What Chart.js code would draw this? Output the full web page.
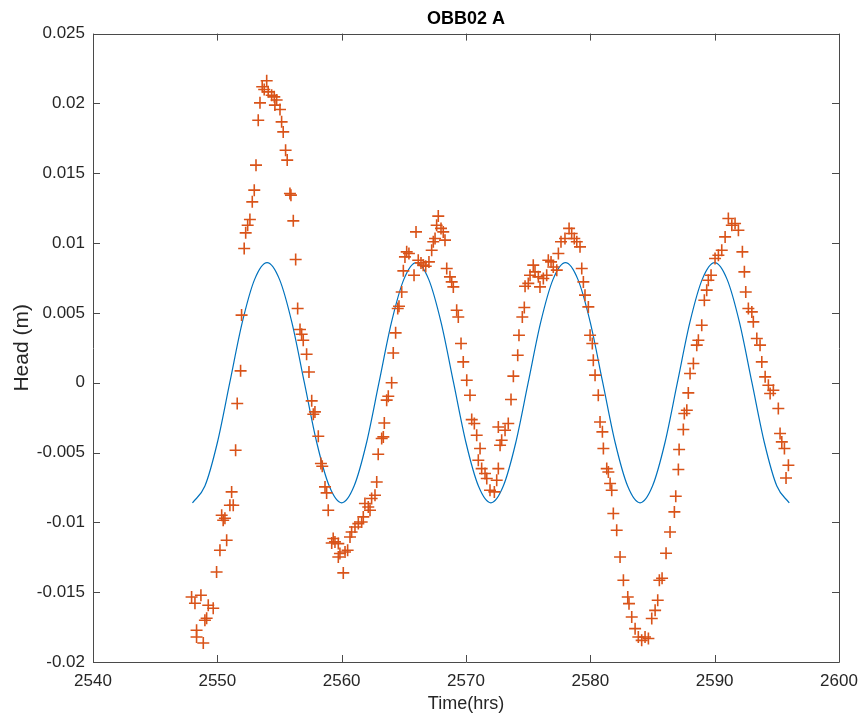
<!DOCTYPE html>
<html lang="en">
<head>
    <meta charset="UTF-8">
    <title>OBB02 A</title>
    <script src="https://cdn.jsdelivr.net/npm/chart.js"></script>
    <style>
        body {
            margin: 0;
            padding: 0;
            background: #fff;
        }
        #wrap {
            width: 862px;
            height: 723px;
        }
    </style>
</head>
<body>
<div id="wrap">
    <canvas id="headChart" width="862" height="723"></canvas>
</div>
<script>
    // axis ticks
    const xTicks = [2540, 2550, 2560, 2570, 2580, 2590, 2600];
    const yTicks = [-0.02, -0.015, -0.01, -0.005, 0, 0.005, 0.01, 0.015, 0.02, 0.025];

    // fitted curve (blue), hourly
    const fitT = [2548, 2549, 2550, 2551, 2552, 2553, 2554, 2555, 2556, 2557, 2558, 2559,
                  2560, 2561, 2562, 2563, 2564, 2565, 2566, 2567, 2568, 2569, 2570, 2571,
                  2572, 2573, 2574, 2575, 2576, 2577, 2578, 2579, 2580, 2581, 2582, 2583,
                  2584, 2585, 2586, 2587, 2588, 2589, 2590, 2591, 2592, 2593, 2594, 2595,
                  2596];
    const fitHead = [-0.0086, -0.0074, -0.0043, 0, 0.0043, 0.0074, 0.0086, 0.0074, 0.0043, 0, -0.0043, -0.0074,
                     -0.0086, -0.0074, -0.0043, 0, 0.0043, 0.0074, 0.0086, 0.0074, 0.0043, 0, -0.0043, -0.0074,
                     -0.0086, -0.0074, -0.0043, 0, 0.0043, 0.0074, 0.0086, 0.0074, 0.0043, 0, -0.0043, -0.0074,
                     -0.0086, -0.0074, -0.0043, 0, 0.0043, 0.0074, 0.0086, 0.0074, 0.0043, 0, -0.0043, -0.0074,
                     -0.0086];

    // measured head (red crosses)
    const obsT = [
        2547.93, 2548.20, 2548.68, 2549.27, 2549.67, 2549.14, 2549.00, 2548.33, 2548.33, 2548.87,
        2549.94, 2550.21, 2550.75, 2550.35, 2550.47, 2550.61, 2551.01, 2551.28, 2551.15, 2551.47,
        2551.60, 2551.87, 2551.95, 2552.16, 2552.28, 2552.44, 2552.62, 2552.81, 2552.97, 2553.11,
        2553.29, 2553.43, 2553.61, 2553.77, 2553.97, 2554.09, 2554.37, 2554.58, 2554.77, 2554.63,
        2555.04, 2555.17, 2555.30, 2555.49, 2555.62, 2555.84, 2555.92, 2556.11, 2556.30, 2556.46,
        2556.65, 2556.78, 2556.91, 2557.18, 2557.37, 2557.59, 2557.85, 2557.72, 2558.12, 2558.33,
        2558.44, 2558.66, 2558.79, 2558.92, 2559.32, 2559.20, 2559.46, 2559.73, 2559.73, 2559.86,
        2560.27, 2560.48, 2560.13, 2560.67, 2560.80, 2561.07, 2561.34, 2561.61, 2561.74, 2561.87,
        2562.14, 2562.28, 2562.41, 2562.68, 2562.82, 2562.94, 2563.22, 2563.35, 2563.43, 2563.62,
        2563.75, 2564.02, 2564.15, 2564.34, 2564.51, 2564.61, 2564.83, 2564.96, 2565.09, 2565.23,
        2565.41, 2565.82, 2565.98, 2566.16, 2566.38, 2566.56, 2566.76, 2567.02, 2567.24, 2567.37,
        2567.51, 2567.64, 2567.77, 2567.99, 2568.17, 2568.31, 2568.45, 2568.71, 2568.85, 2568.98,
        2569.25, 2569.38, 2569.60, 2569.78, 2570.06, 2570.32, 2570.46, 2570.67, 2570.86, 2571.13,
        2570.99, 2571.26, 2571.53, 2571.67, 2571.93, 2572.28, 2572.47, 2572.60, 2572.74, 2572.87,
        2572.60, 2573.14, 2573.40, 2573.62, 2573.81, 2574.16, 2574.26, 2574.53, 2574.69, 2574.75,
        2575.01, 2575.15, 2575.41, 2575.55, 2575.82, 2575.95, 2576.22, 2576.49, 2576.62, 2576.84,
        2577.02, 2577.30, 2577.43, 2577.64, 2577.96, 2578.29, 2578.50, 2578.71, 2578.91, 2579.17,
        2579.31, 2579.44, 2579.57, 2579.84, 2579.98, 2580.16, 2580.24, 2580.38, 2580.64, 2580.78,
        2580.97, 2581.05, 2581.32, 2581.45, 2581.59, 2581.72, 2581.85, 2582.12, 2582.39, 2582.66,
        2583.01, 2583.11, 2583.33, 2583.60, 2583.86, 2584.13, 2584.40, 2584.67, 2584.94, 2585.21,
        2585.42, 2585.55, 2585.77, 2586.09, 2586.41, 2586.76, 2586.87, 2587.08, 2587.14, 2587.48,
        2587.56, 2587.76, 2587.88, 2588.02, 2588.29, 2588.56, 2588.69, 2588.96, 2589.17, 2589.36,
        2589.49, 2589.71, 2590.03, 2590.30, 2590.57, 2590.84, 2591.10, 2591.38, 2591.64, 2591.91,
        2592.23, 2592.39, 2592.50, 2592.71, 2592.99, 2593.11, 2593.39, 2593.65, 2593.79, 2594.06,
        2594.32, 2594.46, 2594.72, 2595.12, 2595.26, 2595.40, 2595.61, 2595.93, 2595.74
    ];
    const obsHead = [
        -0.01534, -0.01579, -0.01522, -0.01594, -0.01615, -0.01687, -0.01701, -0.01773, -0.01821, -0.01864,
        -0.01355, -0.01200, -0.01128, -0.00949, -0.00985, -0.00971, -0.00877, -0.00877, -0.00782, -0.00484,
        -0.00149, 0.00085, 0.00484, 0.00961, 0.01073, 0.01128, 0.01169, 0.01295, 0.01379, 0.01558,
        0.01880, 0.02004, 0.02119, 0.02100, 0.02162, 0.02083, 0.02059, 0.02047, 0.02024, 0.01988,
        0.01957, 0.01868, 0.01796, 0.01665, 0.01594, 0.01355, 0.01343, 0.01159, 0.00882, 0.00531,
        0.00381, 0.00347, 0.00304, 0.00204, 0.00077, -0.00130, -0.00209, -0.00226, -0.00383, -0.00579,
        -0.00598, -0.00746, -0.00789, -0.00913, -0.01116, -0.01148, -0.01140, -0.01248, -0.01152, -0.01223,
        -0.01212, -0.01200, -0.01362, -0.01105, -0.01069, -0.01033, -0.01009, -0.00997, -0.00961, -0.00865,
        -0.00890, -0.00913, -0.00829, -0.00806, -0.00711, -0.00512, -0.00400, -0.00388, -0.00288, -0.00125,
        -0.00097, 0.00000, 0.00213, 0.00357, 0.00531, 0.00548, 0.00650, 0.00801, 0.00901, 0.00937,
        0.00925, 0.00770, 0.01080, 0.00877, 0.00858, 0.00842, 0.00834, 0.00865, 0.00949, 0.01009,
        0.01033, 0.01128, 0.01193, 0.01105, 0.01080, 0.01021, 0.00818, 0.00758, 0.00722, 0.00686,
        0.00519, 0.00471, 0.00281, 0.00149, 0.00018, -0.00090, -0.00264, -0.00292, -0.00376, -0.00471,
        -0.00555, -0.00615, -0.00650, -0.00686, -0.00770, -0.00782, -0.00698, -0.00615, -0.00448, -0.00412,
        -0.00317, -0.00340, -0.00292, -0.00120, 0.00047, 0.00197, 0.00340, 0.00471, 0.00539, 0.00691,
        0.00711, 0.00770, 0.00842, 0.00794, 0.00758, 0.00686, 0.00746, 0.00770, 0.00877, 0.00865,
        0.00829, 0.00806, 0.00925, 0.01009, 0.01033, 0.01105, 0.01069, 0.01033, 0.01009, 0.00973,
        0.00818, 0.00722, 0.00627, 0.00543, 0.00340, 0.00281, 0.00161, 0.00054, -0.00090, -0.00281,
        -0.00352, -0.00471, -0.00615, -0.00639, -0.00722, -0.00770, -0.00937, -0.01057, -0.01248, -0.01415,
        -0.01534, -0.01582, -0.01678, -0.01761, -0.01821, -0.01845, -0.01821, -0.01832, -0.01689, -0.01630,
        -0.01558, -0.01415, -0.01400, -0.01221, -0.01069, -0.00925, -0.00813, -0.00622, -0.00478, -0.00335,
        -0.00221, -0.00197, -0.00073, 0.00066, 0.00138, 0.00269, 0.00304, 0.00412, 0.00591, 0.00663,
        0.00734, 0.00770, 0.00890, 0.00913, 0.00949, 0.01044, 0.01176, 0.01128, 0.01140, 0.01092,
        0.00937, 0.00794, 0.00650, 0.00531, 0.00507, 0.00436, 0.00317, 0.00269, 0.00149, 0.00042,
        -0.00018, -0.00077, -0.00054, -0.00185, -0.00364, -0.00424, -0.00471, -0.00591, -0.00682
    ];

    const FONT = "'Liberation Sans', Arial, Helvetica, sans-serif";
    const INK = '#262626';

    // MATLAB style box with inward ticks on all four sides
    const boxPlugin = {
        id: 'matlabBox',
        afterDatasetsDraw(chart) {
            const { ctx, chartArea: a, scales: { x, y } } = chart;
            const len = 7;
            ctx.save();
            ctx.strokeStyle = '#4a4a4a';
            ctx.lineWidth = 1;
            ctx.beginPath();
            ctx.rect(Math.round(a.left) + 0.5, Math.round(a.top) + 0.5,
                     Math.round(a.right - a.left), Math.round(a.bottom - a.top));
            xTicks.forEach(v => {
                const px = Math.round(x.getPixelForValue(v)) + 0.5;
                ctx.moveTo(px, a.bottom); ctx.lineTo(px, a.bottom - len);
                ctx.moveTo(px, a.top); ctx.lineTo(px, a.top + len);
            });
            yTicks.forEach(v => {
                const py = Math.round(y.getPixelForValue(v)) + 0.5;
                ctx.moveTo(a.left, py); ctx.lineTo(a.left + len, py);
                ctx.moveTo(a.right, py); ctx.lineTo(a.right - len, py);
            });
            ctx.stroke();
            ctx.restore();
        }
    };

    const fitPoints = fitT.map((t, i) => ({ x: t, y: fitHead[i] }));
    const obsPoints = obsT.map((t, i) => ({ x: t, y: obsHead[i] }));

    new Chart(document.getElementById('headChart').getContext('2d'), {
        type: 'scatter',
        data: {
            datasets: [
                {
                    label: 'Fit',
                    data: fitPoints,
                    showLine: true,
                    borderColor: '#0072BD',
                    borderWidth: 1.2,
                    pointRadius: 0,
                    cubicInterpolationMode: 'monotone',
                    order: 2
                },
                {
                    label: 'Observed',
                    data: obsPoints,
                    showLine: false,
                    pointStyle: 'cross',
                    pointRadius: 6,
                    borderColor: '#D95319',
                    borderWidth: 1.6,
                    order: 1
                }
            ]
        },
        options: {
            responsive: false,
            animation: false,
            layout: { padding: { left: 0, right: 23, top: 0, bottom: 0 } },
            plugins: {
                legend: { display: false },
                tooltip: { enabled: false },
                title: {
                    display: true,
                    text: 'OBB02 A',
                    fullSize: false,
                    color: '#000',
                    font: { family: FONT, size: 18, weight: 'bold' },
                    padding: { top: 8, bottom: 4 }
                }
            },
            scales: {
                x: {
                    type: 'linear',
                    min: 2540,
                    max: 2600,
                    afterFit: s => {
                        s.height = 61;
                        // end labels may hang past the box, as in MATLAB
                        s.paddingLeft = 0;
                        s.paddingRight = 0;
                    },
                    afterBuildTicks: s => { s.ticks = xTicks.map(v => ({ value: v })); },
                    grid: { display: false, drawTicks: false },
                    border: { display: false },
                    ticks: {
                        color: INK,
                        padding: 9,
                        maxRotation: 0,
                        font: { family: FONT, size: 17 },
                        callback: v => String(v)
                    },
                    title: {
                        display: true,
                        text: 'Time(hrs)',
                        color: INK,
                        font: { family: FONT, size: 18 },
                        padding: { top: 0, bottom: 8 }
                    }
                },
                y: {
                    type: 'linear',
                    min: -0.02,
                    max: 0.025,
                    afterFit: s => { s.width = 93; },
                    afterBuildTicks: s => { s.ticks = yTicks.map(v => ({ value: v })); },
                    grid: { display: false, drawTicks: false },
                    border: { display: false },
                    ticks: {
                        color: INK,
                        padding: 8,
                        font: { family: FONT, size: 17 },
                        callback: v => String(Number(v.toFixed(3)))
                    },
                    title: {
                        display: true,
                        text: 'Head (m)',
                        color: INK,
                        font: { family: FONT, size: 21 },
                        padding: { top: 10, bottom: 0 }
                    }
                }
            }
        },
        plugins: [boxPlugin]
    });
</script>
</body>
</html>
